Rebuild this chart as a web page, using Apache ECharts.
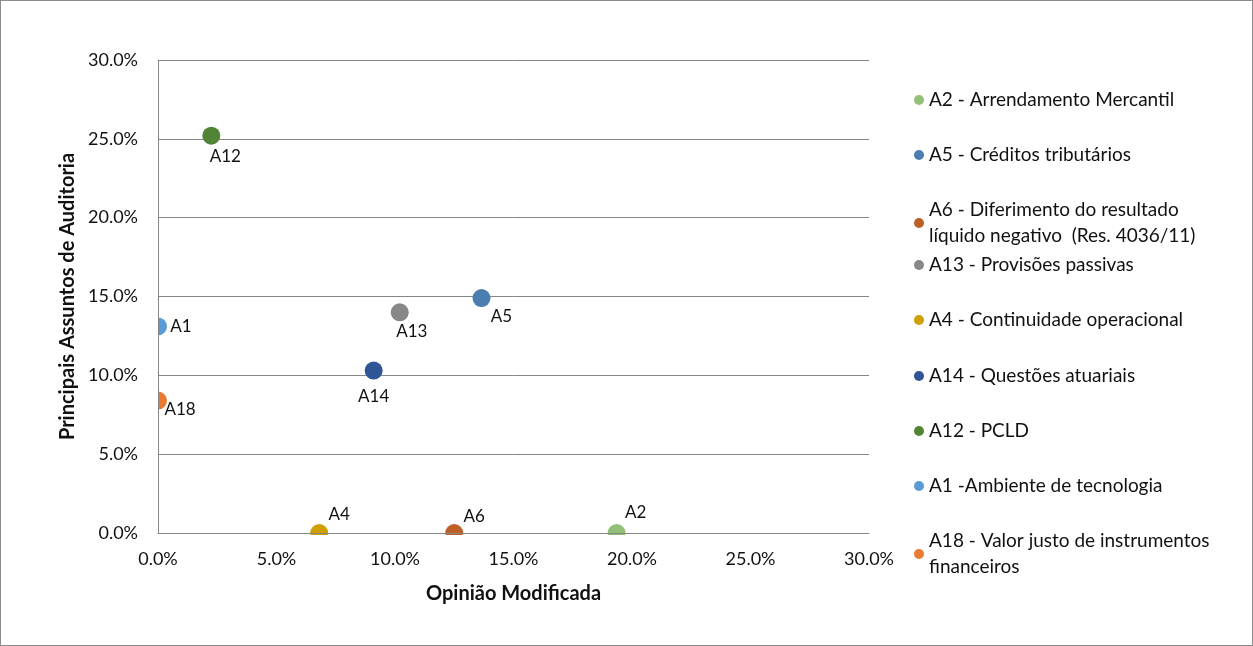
<!DOCTYPE html>
<html><head><meta charset="utf-8">
<script src="https://cdn.jsdelivr.net/npm/echarts@6/dist/echarts.min.js"></script>
<style>html,body{margin:0;padding:0;background:#fff}#c{width:1253px;height:646px;box-sizing:border-box;border:1px solid #8c8c8c}</style>
</head><body><div id="c"></div>
<script>
const names = ['A2 - Arrendamento Mercantil','A5 - Créditos tributários','A6 - Diferimento do resultado\nlíquido negativo  (Res. 4036/11)','A13 - Provisões passivas','A4 - Continuidade operacional','A14 - Questões atuariais','A12 - PCLD','A1 -Ambiente de tecnologia','A18 - Valor justo de instrumentos\nfinanceiros'];
const labels = ['A2','A5','A6','A13','A4','A14','A12','A1','A18'];
const xValues = [19.35, 13.65, 12.5, 10.2, 6.8, 9.1, 2.25, 0, 0];
const yValues = [0, 14.9, 0, 14.0, 0, 10.3, 25.2, 13.1, 8.4];
const colors = ['#93bf77','#4a7db0','#bf5f28','#888888','#d09e00','#2f5597','#528435','#5b9bd5','#e97a31'];
const labelPos = [[19,-20],[20,18],[20,-16],[12,19],[20,-18],[0,26],[14,21],[23,0],[22,9]];
const legendTops = [81,136,191,246,301,357,412,467,522];

const font = 'Lato, "Open Sans", sans-serif';
const G = {left:157, right:383, top:59, bottom:112};
const chart = echarts.init(document.getElementById('c'));
const series = names.map((n,i)=>({
  name:n, type:'scatter', symbolSize:18,
  itemStyle:{color:colors[i], opacity:1},
  data:[[xValues[i], yValues[i]]],
  label:{show:true, formatter:labels[i], position:'inside', offset:labelPos[i], color:'#111', fontSize:17, fontFamily:font},
  z: 2
}));
const legends = names.map((n,i)=>({
  data:[n], left:908, top:legendTops[i], orient:'vertical',
  icon:'circle', itemWidth:10, itemHeight:10, itemGap:0,
  textStyle:{fontSize:19, fontFamily:font, color:'#111', lineHeight:26}
}));
const gray = '#868686';
const axisFont = {fontSize:18, fontFamily:font, color:'#111'};
chart.setOption({
  animation:false,
  grid:G,
  graphic:[
    {type:'rect', z:5, shape:{x:146, y:40, width:G.left-146, height:646-G.bottom-40+12}, style:{fill:'#fff'}},
    {type:'rect', z:5, shape:{x:146, y:646-G.bottom, width:1253-G.right-146+20, height:12}, style:{fill:'#fff'}}
  ],
  xAxis:{type:'value', min:0, max:30, interval:5, z:10,
    name:'Opinião Modificada', nameLocation:'middle', nameGap:51,
    nameTextStyle:{fontWeight:'bold', fontSize:20, fontFamily:font, color:'#111'},
    axisLine:{show:true, lineStyle:{color:gray}}, axisTick:{show:false},
    splitLine:{show:false},
    axisLabel:Object.assign({formatter:v=>v.toFixed(1)+'%', margin:17}, axisFont)},
  yAxis:[{type:'value', min:0, max:30, interval:5,
    name:'Principais Assuntos de Auditoria', nameLocation:'middle', nameGap:80, nameRotate:90,
    nameTextStyle:{fontWeight:'bold', fontSize:20, fontFamily:font, color:'#111'},
    axisLine:{show:false}, axisTick:{show:false},
    splitLine:{show:true, lineStyle:{color:gray}},
    axisLabel:Object.assign({formatter:v=>v.toFixed(1)+'%', margin:20}, axisFont)},
   {type:'value', min:0, max:30, interval:5, position:'left', z:10,
    axisLine:{show:true, onZero:false, lineStyle:{color:gray}}, axisTick:{show:false},
    splitLine:{show:false}, axisLabel:{show:false}}],
  legend:legends,
  series:series
});
</script></body></html>
